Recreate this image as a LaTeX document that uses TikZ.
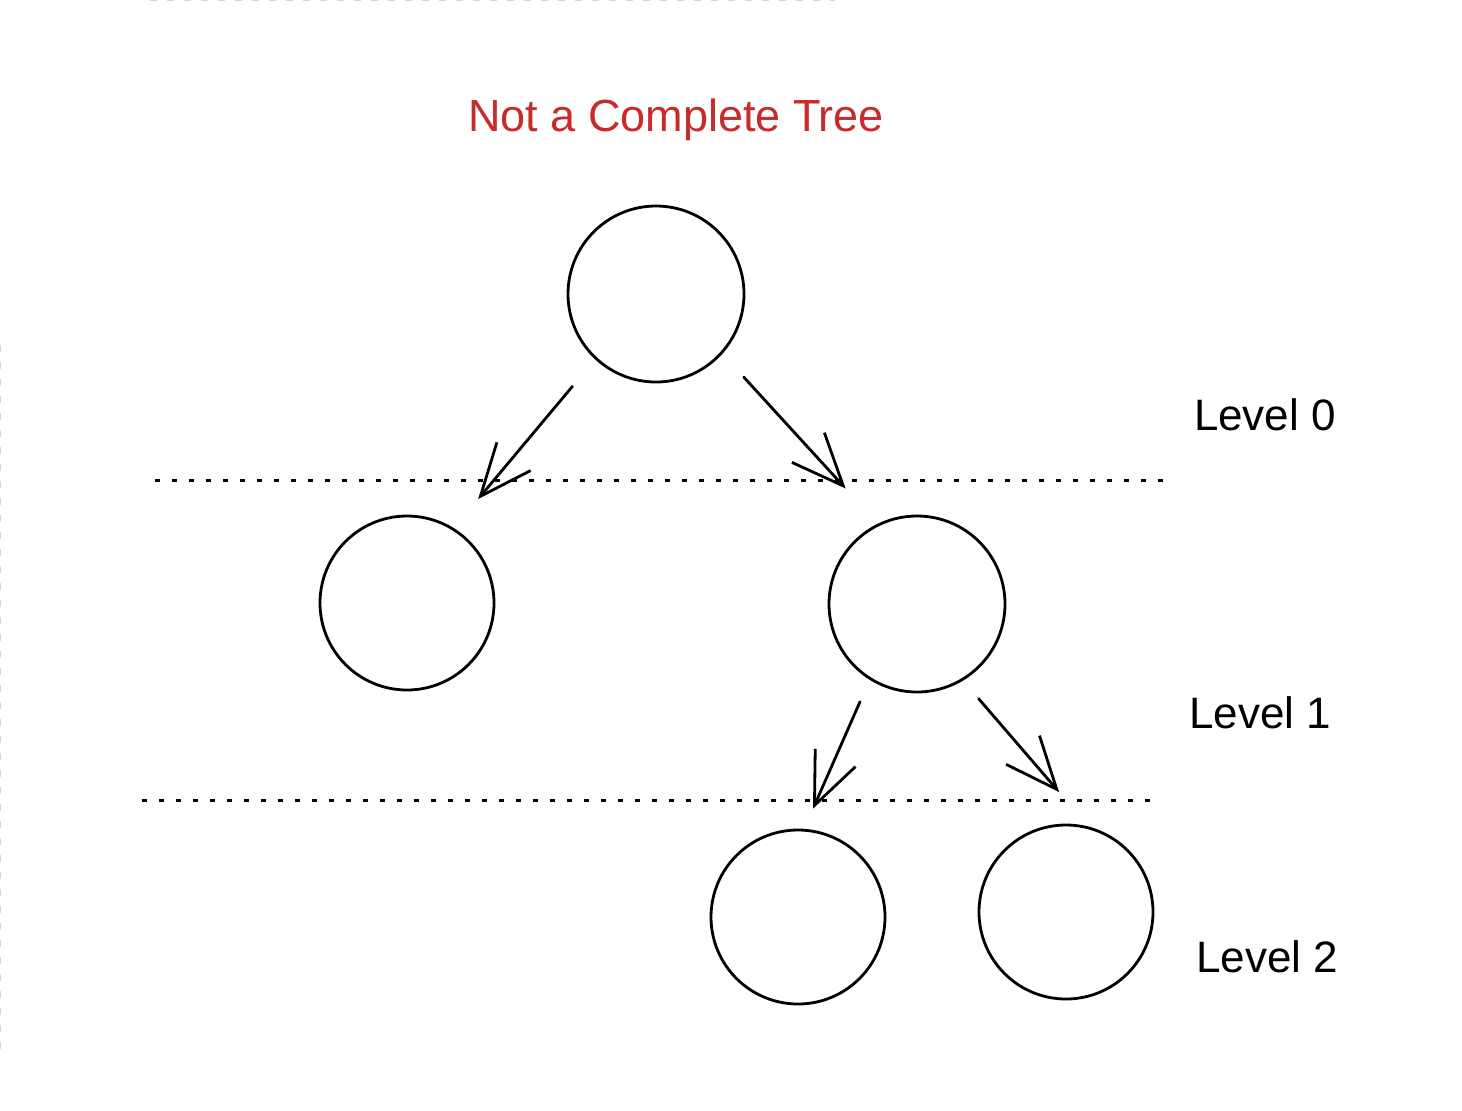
\documentclass[tikz,border=0pt]{standalone}
\usepackage{fontspec}
\setmainfont{Liberation Sans}
\usetikzlibrary{arrows.meta}
\definecolor{titlered}{HTML}{C92A2A}
\definecolor{faintpink}{HTML}{FFC2C2}
\tikzset{
  treenode/.style={circle, draw=black, line width=1.4pt, inner sep=0pt, minimum size=#1},
  treearrow/.style={draw=black, line width=1.4pt, line cap=round, -{Straight Barb[length=26pt, width=22pt, line width=1.4pt]}},
  levelline/.style={draw=black, line width=1.5pt, dash pattern=on 2.5pt off 6pt},
  edgeline/.style={draw=faintpink, line width=1.2pt, dash pattern=on 3.5pt off 5pt},
  lvl/.style={font=\fontsize{22pt}{26pt}\selectfont, text=black},
  ttl/.style={font=\fontsize{22.5pt}{26pt}\selectfont, text=titlered}
}
\begin{document}
\begin{tikzpicture}[x=0.5pt, y=-0.5pt]
\useasboundingbox (0,0) rectangle (1462,1110);
\fill[white] (0,0) rectangle (1462,1110);

% faint page edges
\coordinate (pt1) at (150,0);
\coordinate (pt2) at (835,0);
\coordinate (pl1) at (0,345);
\coordinate (pl2) at (0,1050);
\draw[edgeline] (pt1) -- (pt2);
\draw[edgeline] (pl1) -- (pl2);

% title
\node[ttl] (title) at (676,120) {Not a Complete Tree};

% circles
\node[treenode=88pt] (root) at (656,294) {};
\node[treenode=87pt] (l1a) at (407,603) {};
\node[treenode=88pt] (r1) at (917,604) {};
\node[treenode=87pt] (l2a) at (798,917) {};
\node[treenode=87pt] (l2b) at (1066,912) {};

% level separators
\coordinate (d1a) at (155,480);
\coordinate (d1b) at (1165,480);
\coordinate (d2a) at (142,800);
\coordinate (d2b) at (1152,800);
\draw[levelline] (d1a) -- (d1b);
\draw[levelline] (d2a) -- (d2b);

% arrows
\draw[treearrow, shorten <=17.6pt, shorten >=18.9pt] (root.-133.3) -- (l1a.58.2);
\draw[treearrow, shorten <=15.8pt, shorten >=23.8pt] (root.-42.7) -- (r1.116.2);
\draw[treearrow, shorten <=12pt, shorten >=11pt] (r1.-122.6) -- (l2a.86.6);
\draw[treearrow, shorten <=11.9pt, shorten >=22.8pt] (r1.-59.6) -- (l2b.75.6);

% level labels
\node[lvl] (lv0) at (1265,415) {Level 0};
\node[lvl] (lv1) at (1260,713) {Level 1};
\node[lvl] (lv2) at (1267,957) {Level 2};
\end{tikzpicture}
\end{document}
